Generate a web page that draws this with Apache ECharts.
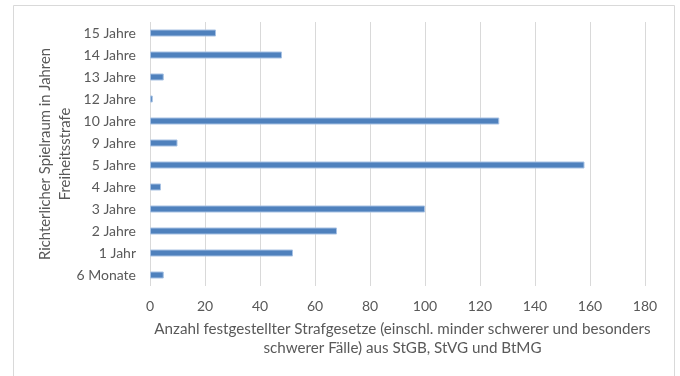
<!DOCTYPE html>
<html>
<head>
<meta charset="utf-8">
<script src="https://cdn.jsdelivr.net/npm/echarts@6/dist/echarts.min.js"></script>
<style>
  html, body { margin: 0; padding: 0; background: #ffffff; }
  #chart { width: 680px; height: 376px; }
</style>
</head>
<body>
<div id="chart"></div>
<script>
// Strafrahmen-Kategorien (von unten nach oben)
const categories = ['6 Monate', '1 Jahr', '2 Jahre', '3 Jahre', '4 Jahre', '5 Jahre',
                    '9 Jahre', '10 Jahre', '12 Jahre', '13 Jahre', '14 Jahre', '15 Jahre'];
// Anzahl festgestellter Strafgesetze je Kategorie
const counts = [5, 52, 68, 100, 4, 158, 10, 127, 1, 5, 48, 24];
const xTicks = { min: 0, max: 180, interval: 20 };

const xTitle = 'Anzahl festgestellter Strafgesetze (einschl. minder schwerer und besonders\nschwerer Fälle) aus StGB, StVG und BtMG';
const yTitle = 'Richterlicher Spielraum in Jahren\nFreiheitsstrafe';

const FONT = 'Lato';
const TEXT = '#595959';

const chart = echarts.init(document.getElementById('chart'), null, { renderer: 'canvas' });
chart.setOption({
  animation: false,
  backgroundColor: '#ffffff',
  textStyle: { fontFamily: FONT },
  grid: { left: 150, right: 35, top: 22, bottom: 90, containLabel: false },
  // Rahmen des Diagrammbereichs
  graphic: [{
    type: 'rect',
    shape: { x: 13.5, y: 5.5, width: 661, height: 400 },
    style: { fill: null, stroke: '#d9d9d9', lineWidth: 1 },
    silent: true
  }],
  xAxis: {
    type: 'value',
    min: xTicks.min, max: xTicks.max, interval: xTicks.interval,
    axisLine: { show: false },
    axisTick: { show: false },
    axisLabel: { color: TEXT, fontSize: 14, fontFamily: FONT, margin: 13 },
    splitLine: { show: true, lineStyle: { color: '#d9d9d9', width: 1 } },
    name: xTitle,
    nameLocation: 'middle',
    nameGap: 34,
    nameMoveOverlap: false,
    nameTextStyle: { color: TEXT, fontSize: 15.2, fontFamily: FONT, lineHeight: 19, align: 'center', padding: [0, 0, 0, 10] }
  },
  yAxis: {
    type: 'category',
    data: categories,
    axisLine: { show: false },
    axisTick: { show: false },
    axisLabel: { color: TEXT, fontSize: 14, fontFamily: FONT, margin: 14 },
    splitLine: { show: false },
    name: yTitle,
    nameLocation: 'middle',
    nameRotate: 90,
    nameGap: 75,
    nameMoveOverlap: false,
    nameTextStyle: { color: TEXT, fontSize: 14.8, fontFamily: FONT, lineHeight: 20, align: 'center' }
  },
  series: [{
    type: 'bar',
    data: counts,
    barWidth: 7,
    itemStyle: { color: '#4f81bd', borderColor: '#a7c1e3', borderWidth: 1 },
    silent: true
  }]
});
</script>
</body>
</html>
